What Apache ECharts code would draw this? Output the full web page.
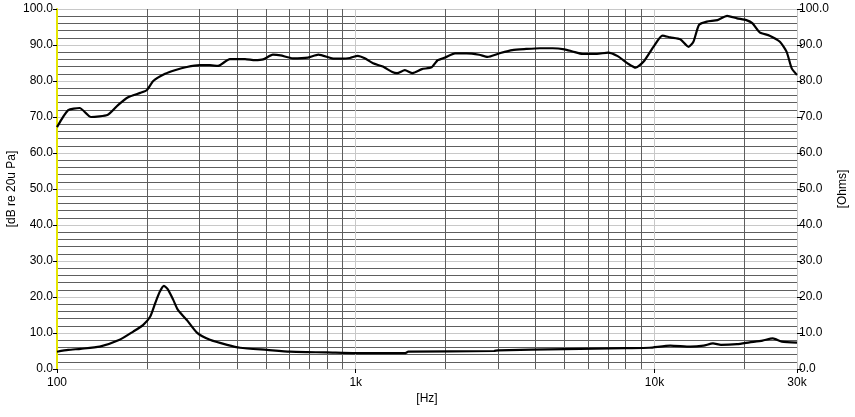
<!DOCTYPE html>
<html>
<head>
<meta charset="utf-8">
<script src="https://cdn.jsdelivr.net/npm/echarts@6/dist/echarts.min.js"></script>
<style>html,body{margin:0;padding:0;background:#fff}#c{width:855px;height:417px}</style>
</head>
<body>
<div id="c"></div>
<script>
// SPL response (Hz, dB re 20uPa)
const splFreq = [100,109,119,130,148,160,173,190,200,210,230,248,272,301,325,346,379,426,460,490,528,560,616,692,750,832,900,956,1016,1072,1143,1232,1326,1375,1460,1550,1665,1795,1880,1915,1990,2150,2350,2590,2760,3030,3340,3720,4130,4560,5000,5320,5750,6420,6990,7530,8130,8650,9200,9920,10640,11300,12200,13000,13500,14100,14970,16260,17500,18900,20300,21300,22500,24300,26300,27700,28800,30000];
const splDb   = [67.2,71.9,72.5,70.0,70.6,73.3,75.5,76.7,77.5,80.0,82.0,83.0,83.9,84.4,84.4,84.2,86.1,86.1,85.8,86.0,87.3,87.1,86.3,86.5,87.3,86.3,86.2,86.4,87.0,86.3,84.9,84.0,82.5,82.2,83.0,82.2,83.3,83.8,85.8,86.0,86.5,87.7,87.7,87.3,86.7,87.7,88.6,88.9,89.1,89.1,88.8,88.2,87.5,87.5,87.9,86.9,84.9,83.7,85.4,89.5,92.6,92.1,91.6,89.5,90.9,95.6,96.5,96.9,98.1,97.4,96.9,96.0,93.5,92.6,90.9,88.1,83.5,81.7];
// Impedance (Hz, Ohms)
const impFreq = [100,109,120,139,162,180,194,205,213,221,228,235,245,254,272,294,325,371,410,505,603,800,1000,1460,1500,2900,3000,5000,8000,9600,11300,13200,14600,15700,16700,18900,20800,23000,24900,26700,30000];
const impOhm  = [4.8,5.3,5.6,6.2,8.1,10.4,12.2,14.5,18.2,21.5,23.1,22.1,19.2,16.4,13.6,10.1,8.1,6.7,5.9,5.3,4.8,4.6,4.4,4.4,4.8,5.0,5.2,5.5,5.8,5.9,6.5,6.2,6.5,7.1,6.7,6.9,7.4,7.9,8.5,7.6,7.3];
// Axis ticks / grid
const xMin = 100, xMax = 30000;
const yMin = 0, yMax = 100, yStep = 10;
const minorFreq = [200,300,400,500,600,700,800,900,2000,3000,4000,5000,6000,7000,8000,9000,20000];

const zip = (a,b) => a.map((v,i)=>[v,b[i]]);
const fmtHz = v => v >= 1000 ? (Math.round(v/1000)) + 'k' : String(Math.round(v));
const FONT = 'Liberation Sans';

const chart = echarts.init(document.getElementById('c'), null, {renderer:'canvas'});
chart.setOption({
  animation:false,
  backgroundColor:'#fff',
  textStyle:{fontFamily:FONT},
  grid:{left:57,right:58,top:9,bottom:48,containLabel:false,outerBoundsMode:'none'},
  xAxis:{
    type:'log', logBase:10, min:xMin, max:xMax,
    name:'[Hz]', nameLocation:'middle', nameGap:24, nameMoveOverlap:false,
    nameTextStyle:{color:'#000',fontSize:12,fontFamily:FONT},
    axisLine:{show:false},
    axisTick:{show:true,length:4,lineStyle:{color:'#000'}},
    axisLabel:{color:'#000',fontSize:12,fontFamily:FONT,margin:8,showMaxLabel:true,showMinLabel:true,formatter:fmtHz},
    splitLine:{show:true,lineStyle:{color:'#c8c8c8',width:1}}
  },
  yAxis:[{
    type:'value', min:yMin, max:yMax, interval:yStep, position:'left',
    name:'[dB re 20u Pa]', nameLocation:'middle', nameGap:39, nameMoveOverlap:false,
    nameTextStyle:{color:'#000',fontSize:12,fontFamily:FONT},
    axisLine:{show:true,lineStyle:{color:'#e6e600',width:2}},
    axisTick:{show:true,length:4,lineStyle:{color:'#000'}},
    axisLabel:{color:'#000',fontSize:12,fontFamily:FONT,margin:4,formatter:v=>v.toFixed(1)},
    splitLine:{show:true,lineStyle:{color:'#c8c8c8',width:1}},
    minorTick:{show:false,splitNumber:5},
    minorSplitLine:{show:true,lineStyle:{color:'#5e5e5e',width:1}}
  },{
    type:'value', min:yMin, max:yMax, interval:yStep, position:'right',
    name:'[Ohms]', nameLocation:'middle', nameGap:40, nameMoveOverlap:false,
    nameTextStyle:{color:'#000',fontSize:12,fontFamily:FONT},
    axisLine:{show:false},
    axisTick:{show:true,length:5,lineStyle:{color:'#000'}},
    axisLabel:{color:'#000',fontSize:12,fontFamily:FONT,margin:2,formatter:v=>v.toFixed(1)},
    splitLine:{show:false}
  }],
  series:[{
    type:'line', data:[], z:1, silent:true,
    markLine:{silent:true,symbol:'none',animation:false,label:{show:false},
      lineStyle:{color:'#5e5e5e',width:1,type:'solid'},
      data:minorFreq.map(f=>({xAxis:f}))}
  },{
    name:'SPL', type:'line', data:zip(splFreq,splDb), yAxisIndex:0, z:5,
    showSymbol:false, smooth:0.2, lineStyle:{color:'#000',width:2.2}
  },{
    name:'Impedance', type:'line', data:zip(impFreq,impOhm), yAxisIndex:1, z:5,
    showSymbol:false, smooth:0.2, lineStyle:{color:'#000',width:2.2}
  }]
});
</script>
</body>
</html>
